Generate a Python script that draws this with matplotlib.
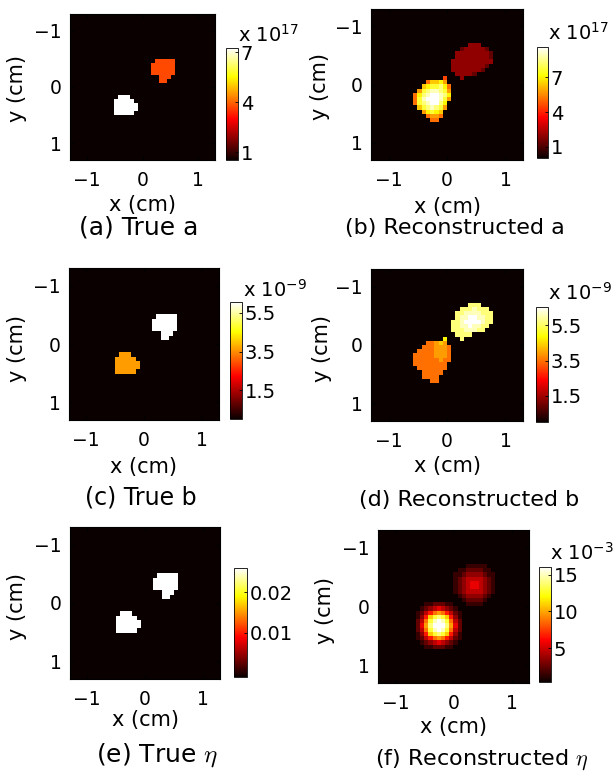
import numpy as np
import matplotlib.pyplot as plt

plt.rcParams['font.family'] = ['DejaVu Sans']
plt.rcParams['mathtext.fontset'] = 'dejavusans'

W, H = 613, 778
N = 36              # pixels per side of the image grid
HALF = 1.3          # half width of the imaged square (cm)
ROW0, COL0 = 8, 9   # grid cell of the first character in each window below

# true targets: 0 background, 1 lower-left target, 2 upper-right target
TRUE_MASK = [
    "00000000000000000000",
    "00000000000000000000",
    "00000000000000000000",
    "00000000000022222000",
    "00000000000222222000",
    "00000000000222222000",
    "00000000000222222000",
    "00000000000002220000",
    "00000000000002200000",
    "00000000000000000000",
    "00000000000000000000",
    "00000000000000000000",
    "00011100000000000000",
    "00111110000000000000",
    "00111111000000000000",
    "00111111000000000000",
    "00111110000000000000",
    "00000000000000000000",
    "00000000000000000000",
    "00000000000000000000",
]
TRUE_A = [0.52, 7.24, 3.7]        # x 1e17
TRUE_B = [0.0, 3.65, 6.07]        # x 1e-9
TRUE_ETA = [-0.001, 0.026, 0.026]

# reconstructions as hex levels 0..f between the colour limits
RECON_A = [
    "00000000000000333000",
    "00000000000023333320",
    "00000000000333333332",
    "00000000000333333332",
    "00000000003333333333",
    "00000000003333333320",
    "00000000003333333200",
    "00000000000333320000",
    "00000000700030000000",
    "00008aab900000000000",
    "000abccdb80000000000",
    "009cdeedc90000000000",
    "08bdeffedb0000000000",
    "08cefffec90000000000",
    "08cdeffdb00000000000",
    "00acdedc900000000000",
    "0009bcba000000000000",
    "00008998000000000000",
    "00000880000000000000",
    "00000000000000000000",
]
RECON_B = [
    "00000000000000ddd000",
    "000000000000dddeddd0",
    "00000000000ddeeeeddd",
    "00000000000deeffeedd",
    "0000000000ddeffffedd",
    "0000000000ddeefeedd0",
    "0000000000dddeeedd00",
    "00000000000dddd00000",
    "00000000b000d0000000",
    "0000889a900000000000",
    "00088899980000000000",
    "00888899980000000000",
    "08888899980000000000",
    "08888889880000000000",
    "08888888800000000000",
    "00888888800000000000",
    "00088888000000000000",
    "00088880000000000000",
    "00000880000000000000",
    "00000000000000000000",
]
RECON_ETA = [
    "00000000000011111000",
    "00000000001122221100",
    "00000000011233332110",
    "00000000012344443210",
    "00000000012345543210",
    "00000000012345543210",
    "00000000012344443210",
    "00000000001233332100",
    "00000000000122221000",
    "00112221100011110000",
    "01234543210000000000",
    "12468986421000000000",
    "136acdca631000000000",
    "248cefec842000000000",
    "259dfffd952000000000",
    "248cefec842000000000",
    "136acdca631000000000",
    "12468986421000000000",
    "01234543210000000000",
    "00112221100000000000",
]

CLIM_A = (0.05, 9.6)
CLIM_B = (0.0, 6.55)
CLIM_ETA = (0.4, 16.05)

AXIS_TICKS = [-1, 0, 1]
A_TICKS = [1, 4, 7]
B_TICKS = [1.5, 3.5, 5.5]
ETA_TRUE_TICKS = [0.01, 0.02]
ETA_REC_TICKS = [5, 10, 15]

CAPTIONS = ['(a) True a', '(b) Reconstructed a', '(c) True b',
            '(d) Reconstructed b', r'(e) True $\eta$', r'(f) Reconstructed $\eta$']
EXPONENTS = ['17', '17', '-9', '-9', None, '-3']


def true_image(levels):
    img = np.full((N, N), float(levels[0]))
    for i, row in enumerate(TRUE_MASK):
        for j, ch in enumerate(row):
            img[ROW0 + i, COL0 + j] = levels[int(ch)]
    return img, levels[0], max(levels)


def recon_image(rows, clim):
    lo, hi = clim
    img = np.full((N, N), float(lo))
    for i, row in enumerate(rows):
        for j, ch in enumerate(row[:N - COL0]):
            img[ROW0 + i, COL0 + j] = lo + int(ch, 16) / 15 * (hi - lo)
    return img, lo, hi


def px_box(l, t, r, b):
    return [l / W, 1 - b / H, (r - l) / W, (b - t) / H]


panels = [
    (true_image(TRUE_A), A_TICKS),
    (recon_image(RECON_A, CLIM_A), A_TICKS),
    (true_image(TRUE_B), B_TICKS),
    (recon_image(RECON_B, CLIM_B), B_TICKS),
    (true_image(TRUE_ETA), ETA_TRUE_TICKS),
    (recon_image(RECON_ETA, CLIM_ETA), ETA_REC_TICKS),
]

# layout in pixels of the reference: (left, top, right, bottom)
ax_boxes = [(70, 14, 215, 160), (371, 9, 523, 160), (69, 268, 219, 420),
            (371, 269, 523, 421), (70, 527, 220, 679), (378, 530, 529, 683)]
cb_boxes = [(226, 48, 238, 160), (537, 47, 548, 158), (230, 302, 242, 419),
            (536, 307, 548, 422), (234, 568, 247, 677), (539, 567, 551, 682)]
xlabel_y = [205, 207, 467, 466, 720, 727]
ylabel_xy = [(17, 88), (320, 87), (17, 348), (322, 348), (17, 607), (325, 610)]
caption_xy = [(139, 227), (455, 228), (141, 497), (469, 500), (157, 755), (482, 760)]
caption_size = [18, 16, 17, 16, 18, 16]
expo_xy = [(238, 42), (548, 40), (243, 297), (548, 300), None, (550, 560)]

fig = plt.figure(figsize=(W / 100, H / 100), dpi=100)

for k, ((img, lo, hi), cticks) in enumerate(panels):
    ax = fig.add_axes(px_box(*ax_boxes[k]))
    im = ax.imshow(img, cmap='hot', vmin=lo, vmax=hi, interpolation='nearest',
                   extent=(-HALF, HALF, HALF, -HALF), aspect='auto')
    ax.set_xticks(AXIS_TICKS)
    ax.set_yticks(AXIS_TICKS)
    ax.tick_params(direction='in', top=True, right=True, length=3, labelsize=13.5)
    ax.tick_params(axis='x', pad=8)
    ax.tick_params(axis='y', pad=6)

    cax = fig.add_axes(px_box(*cb_boxes[k]))
    cb = fig.colorbar(im, cax=cax, ticks=cticks)
    cb.set_ticklabels([f'{t:g}' for t in cticks])
    cb.outline.set_linewidth(0.6)
    cax.tick_params(direction='in', length=2, width=0.6, labelsize=14, pad=2)

    cx = (ax_boxes[k][0] + ax_boxes[k][2]) / 2
    fig.text(cx / W, 1 - xlabel_y[k] / H, 'x (cm)', ha='center', va='center', fontsize=15)
    yx, yy = ylabel_xy[k]
    fig.text(yx / W, 1 - yy / H, 'y (cm)', ha='center', va='center', rotation=90, fontsize=15)
    capx, capy = caption_xy[k]
    fig.text(capx / W, 1 - capy / H, CAPTIONS[k], ha='center', va='center',
             fontsize=caption_size[k], math_fontfamily='cm')
    if EXPONENTS[k] is not None:
        ex, ey = expo_xy[k]
        fig.text(ex / W, 1 - ey / H, 'x 10$^{' + EXPONENTS[k].replace('-', '\u2212') + '}$',
                 ha='left', va='baseline', fontsize=14)

fig.savefig('out.png', dpi=100)
